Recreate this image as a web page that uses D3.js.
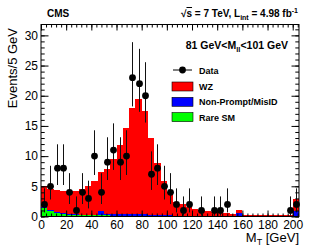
<!DOCTYPE html>
<html>
<head>
<meta charset="utf-8">
<script src="https://cdn.jsdelivr.net/npm/d3@7/dist/d3.min.js"></script>
<style>
  body { margin: 0; background: #fff; }
  svg { display: block; font-family: "Liberation Sans", Arial, Helvetica, sans-serif; }
</style>
</head>
<body>
<svg id="chart" width="315" height="249"></svg>
<script>
// 5 GeV bins from 0 to 205 GeV (lower edges)
var binEdges = [0,5,10,15,20,25,30,35,40,45,50,55,60,65,70,75,80,85,90,95,100,
  105,110,115,120,125,130,135,140,145,150,155,160,165,170,175,180,185,190,195,200];
var binWidth = 5;

// observed events per bin
var dataCounts = [2,5,8,8,4,1,4,3,10,4,9,11,9,10,23,22,20,7,8,5,4,
  2,1,2,0,1,0,1,1,2,0,0,0,0,0,0,0,0,0,1,2];

// stacked expectations, bottom to top
var rareSM = [1.45,0.9,0.6,0.4,0.3,0.25,0.2,0.2,0.2,0.25,0.2,0.15,0.15,0.15,0.15,0.15,0.15,0.1,0.1,0.1,0.1,
  0.05,0.05,0.05,0.05,0.05,0.05,0.05,0.05,0.05,0.05,0.05,0.05,0.05,0.05,0.05,0.05,0.05,0.05,0.05,0.05];
var nonPrompt = [0.1,0.1,0.1,0.1,0.1,0.1,0.1,0.1,0.1,0.7,0.15,0.2,0.2,0.2,0.2,0.2,0.2,0.15,0.15,0.15,0.15,
  0.1,0.1,0.1,0.1,0.1,0.1,0.1,0.1,0.1,0.1,0.6,0.05,0.05,0.05,0.05,0.05,0.05,0.05,0.1,0.85];
var wz = [3.45,3.6,3.7,3.8,3.9,3.85,4.3,4.8,5.5,6.45,7.55,9.25,11.55,14.25,17.65,19.15,17.05,12.75,8.55,5.55,3.75,
  2.25,1.85,1.45,1.05,0.95,0.75,0.65,0.55,0.45,0.3,0.4,0.2,0.15,0.15,0.1,0.1,0.1,0.1,0.15,1.95];

var xTickLabels = [0,20,40,60,80,100,120,140,160,180,200];
var yTickLabels = [0,5,10,15,20,25,30];

var svg = d3.select('#chart');
var padL = 41, padR = 299, padT = 24.5, padB = 216.5;

var x = d3.scaleLinear().domain([0, 205]).range([padL, padR]);
var y = d3.scaleLinear().domain([0, 31.8]).range([padB, padT]);

// histogram stack: green, blue, red
var layers = [
  {values: rareSM, color: '#00ff00'},
  {values: nonPrompt, color: '#0000ff'},
  {values: wz, color: '#ff0000'}
];
var base = binEdges.map(function(){ return 0; });
layers.forEach(function(layer){
  var rows = binEdges.map(function(e, i){
    var r = {x0: e, y0: base[i], y1: base[i] + layer.values[i]};
    base[i] = r.y1;
    return r;
  });
  svg.append('g').selectAll('rect').data(rows).enter().append('rect')
    .attr('x', function(d){ return x(d.x0); })
    .attr('width', function(d){ return x(d.x0 + binWidth) - x(d.x0); })
    .attr('y', function(d){ return y(d.y1); })
    .attr('height', function(d){ return y(d.y0) - y(d.y1); })
    .attr('fill', layer.color)
    .attr('shape-rendering', 'crispEdges');
});

// data points with poisson-like errors
var pts = binEdges.map(function(e, i){
  var n = dataCounts[i];
  return {c: e + binWidth / 2, n: n, lo: n - Math.sqrt(Math.max(n - 0.25, 0)), hi: n + Math.sqrt(n + 0.75) + 1};
}).filter(function(d){ return d.n > 0; });

var pg = svg.append('g');
pg.selectAll('line').data(pts).enter().append('line')
  .attr('x1', function(d){ return Math.round(x(d.c)) + 0.5; })
  .attr('x2', function(d){ return Math.round(x(d.c)) + 0.5; })
  .attr('y1', function(d){ return y(d.lo); })
  .attr('y2', function(d){ return y(Math.min(d.hi, 31.8)); })
  .attr('stroke', '#111').attr('stroke-width', 1);
pg.selectAll('circle').data(pts).enter().append('circle')
  .attr('cx', function(d){ return Math.round(x(d.c)) + 0.5; })
  .attr('cy', function(d){ return y(d.n); })
  .attr('r', 3.4)
  .attr('fill', '#000');

// axes, ticks pointing inwards on all four sides
function axisGroup(axis, tx, ty, labels){
  var g = svg.append('g').attr('transform', 'translate(' + tx + ',' + ty + ')').call(axis);
  g.select('.domain').remove();
  g.selectAll('line').attr('stroke', '#000');
  if(!labels) g.selectAll('text').remove();
  return g;
}
var xMinor = d3.range(0, 205, 4);
var yMinor = d3.range(0, 32, 1);

var gx = axisGroup(d3.axisBottom(x).tickValues(xTickLabels).tickSize(-6).tickPadding(3.5), 0, padB, true);
gx.selectAll('text').attr('font-size', 12).attr('fill', '#000');
axisGroup(d3.axisBottom(x).tickValues(xMinor).tickSize(-3), 0, padB, false);
axisGroup(d3.axisTop(x).tickValues(xTickLabels).tickSize(-6), 0, padT, false);
axisGroup(d3.axisTop(x).tickValues(xMinor).tickSize(-3), 0, padT, false);

var gy = axisGroup(d3.axisLeft(y).tickValues(yTickLabels).tickSize(-7.5).tickPadding(3), padL, 0, true);
gy.selectAll('text').attr('font-size', 12).attr('fill', '#000');
axisGroup(d3.axisLeft(y).tickValues(yMinor).tickSize(-3.7), padL, 0, false);
axisGroup(d3.axisRight(y).tickValues(yTickLabels).tickSize(-7.5), padR, 0, false);
axisGroup(d3.axisRight(y).tickValues(yMinor).tickSize(-3.7), padR, 0, false);

svg.append('rect')
  .attr('x', padL).attr('y', padT)
  .attr('width', padR - padL).attr('height', padB - padT)
  .attr('fill', 'none').attr('stroke', '#000').attr('stroke-width', 1);

// axis titles
svg.append('text')
  .attr('transform', 'translate(17,28) rotate(-90)')
  .attr('text-anchor', 'end').attr('font-size', 13)
  .text('Events/5 GeV');
var xt = svg.append('text')
  .attr('x', padR).attr('y', 242)
  .attr('text-anchor', 'end').attr('font-size', 13);
xt.append('tspan').text('M');
xt.append('tspan').attr('font-size', 9).attr('dy', 3).text('T');
xt.append('tspan').attr('dy', -3).text(' [GeV]');

// header
svg.append('text').attr('x', 47).attr('y', 17)
  .attr('font-size', 10).attr('font-weight', 'bold').text('CMS');
var hdr = svg.append('text').attr('x', 298).attr('y', 17)
  .attr('text-anchor', 'end').attr('font-size', 10).attr('font-weight', 'bold');
hdr.append('tspan').text('\u221a');
hdr.append('tspan').attr('text-decoration', 'overline').text('s');
hdr.append('tspan').text(' = 7 TeV, L');
hdr.append('tspan').attr('font-size', 7).attr('dy', 3).text('int');
hdr.append('tspan').attr('dy', -3).text(' = 4.98 fb');
hdr.append('tspan').attr('font-size', 7).attr('dy', -4).text('-1');

var cut = svg.append('text').attr('x', 288).attr('y', 49)
  .attr('text-anchor', 'end').attr('font-size', 10.5).attr('font-weight', 'bold');
cut.append('tspan').text('81 GeV<M');
cut.append('tspan').attr('font-size', 7.5).attr('dy', 3).text('ll');
cut.append('tspan').attr('dy', -3).text('<101 GeV');

// legend
var leg = svg.append('g').attr('font-size', 9).attr('font-weight', 'bold');
leg.append('line').attr('x1', 173).attr('x2', 192).attr('y1', 70).attr('y2', 70).attr('stroke', '#000');
leg.append('circle').attr('cx', 182.5).attr('cy', 70).attr('r', 3.4).attr('fill', '#000');
leg.append('text').attr('x', 199).attr('y', 73.5).text('Data');
var legItems = [['WZ', '#ff0000'], ['Non-Prompt/MisID', '#0000ff'], ['Rare SM', '#00ff00']];
legItems.forEach(function(it, i){
  var yy = 82 + i * 15.3;
  leg.append('rect').attr('x', 172).attr('y', yy).attr('width', 21).attr('height', 9)
    .attr('fill', it[1]).attr('stroke', '#000').attr('stroke-width', 0.6);
  leg.append('text').attr('x', 199).attr('y', yy + 8).text(it[0]);
});
</script>
</body>
</html>
